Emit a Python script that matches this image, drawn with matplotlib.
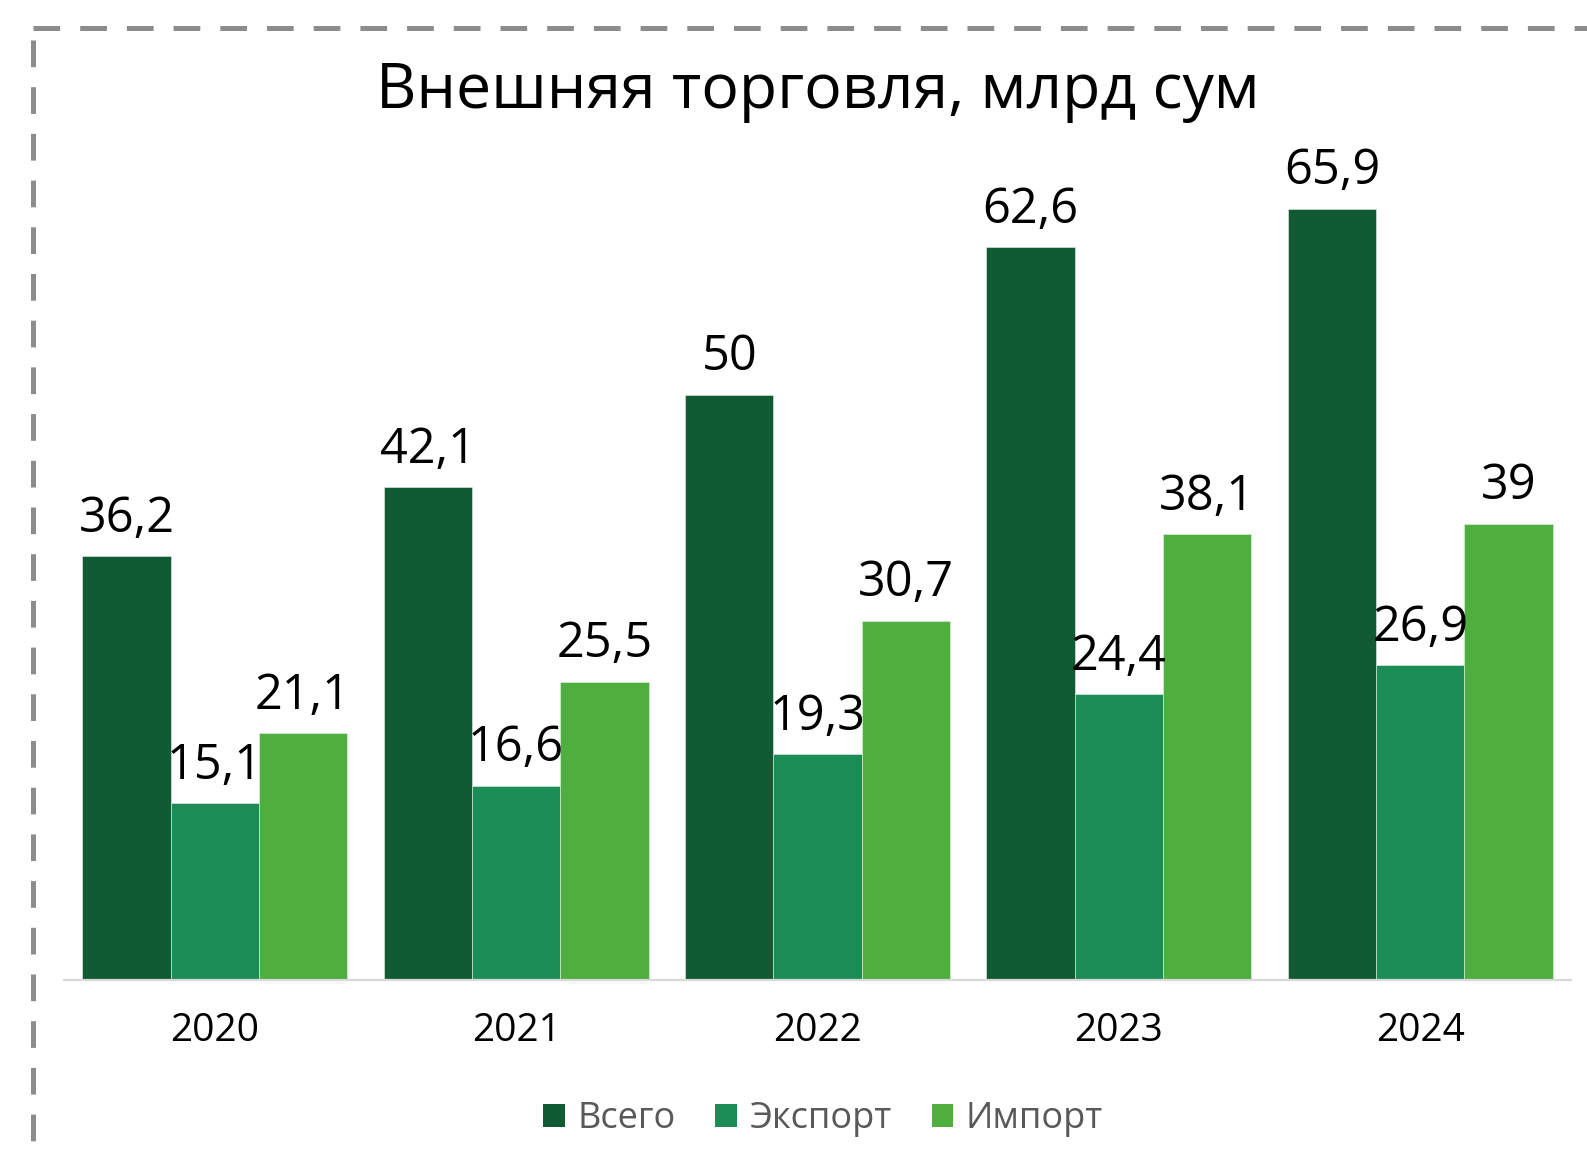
import matplotlib
matplotlib.use("Agg")
import matplotlib.pyplot as plt
from matplotlib.lines import Line2D
from matplotlib.patches import Patch
import numpy as np

years = ["2020", "2021", "2022", "2023", "2024"]
total = [36.2, 42.1, 50.0, 62.6, 65.9]
export = [15.1, 16.6, 19.3, 24.4, 26.9]
imports = [21.1, 25.5, 30.7, 38.1, 39.0]
series_names = ["Всего", "Экспорт", "Импорт"]
colors = ["#105A34", "#1B8C55", "#4EAE3E"]
title = "Внешняя торговля, млрд сум"

plt.rcParams["font.family"] = ["Open Sans", "DejaVu Sans"]

W, H = 1587, 1154
fig = plt.figure(figsize=(W / 100, H / 100), dpi=100)

ax_left, ax_right = 64 / W, 1571 / W
ax_bottom = 1 - 980 / H
ymax = 70
ax_h = ymax * 11.705 / H
ax = fig.add_axes([ax_left, ax_bottom, ax_right - ax_left, ax_h])

x = np.arange(len(years))
bw = 0.293
data = [total, export, imports]

def fmt(v):
    s = f"{v:.1f}".replace(".", ",")
    if s.endswith(",0"):
        s = s[:-2]
    return s

for i, (vals, c, name) in enumerate(zip(data, colors, series_names)):
    pos = x + (i - 1) * bw
    bars = ax.bar(pos, vals, width=bw, color=c, edgecolor="#E8F0E8",
                  linewidth=0.4, label=name, zorder=2)
    for b, v in zip(bars, vals):
        ax.annotate(fmt(v), (b.get_x() + b.get_width() / 2, v),
                    xytext=(0, 9), textcoords="offset points",
                    ha="center", va="bottom", fontsize=35, color="black",
                    annotation_clip=False)

ax.set_xlim(-0.5, len(years) - 0.5)
ax.set_ylim(0, ymax)
ax.set_xticks(x)
ax.set_xticklabels(years, fontsize=28)
ax.tick_params(axis="x", length=0, pad=23)
ax.set_yticks([])
for s in ["top", "right", "left"]:
    ax.spines[s].set_visible(False)
ax.spines["bottom"].set_color("#D9D9D9")
ax.spines["bottom"].set_linewidth(1.6)
ax.set_facecolor("none")

fig.text(818 / W, 1 - 92 / H, title, ha="center", va="center",
         fontsize=45, color="black")

handles = [Patch(facecolor=c, edgecolor="none") for c in colors]
leg = fig.legend(handles, series_names, loc="center",
                 bbox_to_anchor=(823 / W, 1 - 1119 / H), ncol=3,
                 frameon=False, fontsize=26, handlelength=0.6,
                 handleheight=0.6, handletextpad=0.35, columnspacing=1.1)
for t in leg.get_texts():
    t.set_color("#595959")

# dashed frame
lw_px = 5
lw_pt = lw_px * 72 / 100
dash = (26.7 / lw_px, 20 / lw_px)
top_y = 1 - 28 / H
left_x = 33 / W
l1 = Line2D([left_x, 1.02], [top_y, top_y], transform=fig.transFigure,
            color="#8C8C8C", linewidth=lw_pt, dashes=dash,
            solid_capstyle="butt", dash_capstyle="butt")
l2 = Line2D([left_x, left_x], [1 - 40 / H, -0.02], transform=fig.transFigure,
            color="#8C8C8C", linewidth=lw_pt, dashes=dash,
            solid_capstyle="butt", dash_capstyle="butt")
fig.add_artist(l1)
fig.add_artist(l2)

fig.savefig("out.png", dpi=100)
